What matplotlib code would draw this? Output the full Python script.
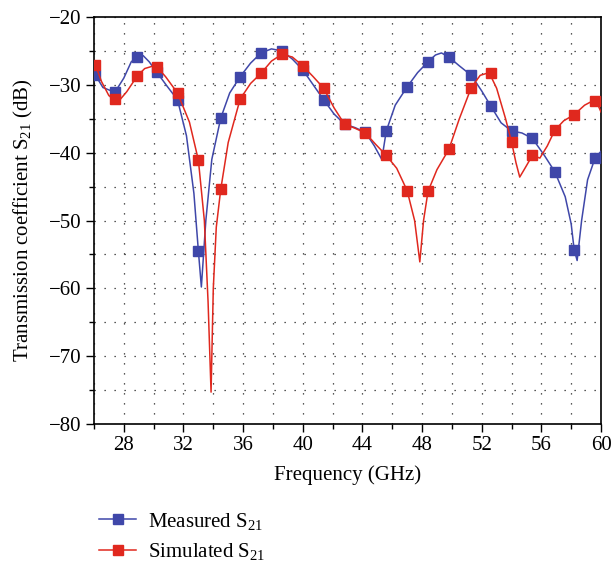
import matplotlib
matplotlib.use("Agg")
import matplotlib.pyplot as plt
from matplotlib.ticker import MultipleLocator
from matplotlib.lines import Line2D

# ---- data ----
marker_freq = [26.1, 27.4, 28.9, 30.2, 31.6, 33.0, 34.5, 35.8, 37.2, 38.6, 40.0, 41.4,
               42.8, 44.2, 45.6, 47.0, 48.4, 49.8, 51.3, 52.6, 54.0, 55.4, 56.9, 58.2, 59.6]
measured_markers = [-28.6, -31.1, -25.9, -28.1, -32.2, -54.5, -34.9, -28.8, -25.3, -25.0,
                    -27.8, -32.2, -35.8, -37.0, -36.8, -30.3, -26.6, -25.9, -28.6, -33.1,
                    -36.8, -37.9, -42.8, -54.3, -40.8]
simulated_markers = [-27.1, -32.1, -28.7, -27.3, -31.2, -41.1, -45.4, -32.1, -28.3, -25.5,
                     -27.2, -30.5, -35.8, -37.1, -40.4, -45.6, -45.7, -39.5, -30.4, -28.3,
                     -38.4, -40.4, -36.7, -34.4, -32.4]

measured_freq = [26.0, 26.1, 26.6, 27.4, 28.0, 28.5, 28.9, 29.3, 29.7, 30.2, 30.9, 31.6,
                 32.2, 32.7, 33.0, 33.2, 33.5, 33.9, 34.5, 35.1, 35.8, 36.5, 37.2, 37.9,
                 38.6, 39.3, 40.0, 40.7, 41.4, 42.1, 42.8, 43.5, 44.2, 44.8, 45.3, 45.6,
                 46.2, 47.0, 47.7, 48.4, 48.9, 49.3, 49.8, 50.5, 51.3, 52.0, 52.6, 53.3,
                 54.0, 54.7, 55.4, 56.2, 56.9, 57.6, 58.0, 58.2, 58.4, 58.7, 59.1, 59.6, 60.0]
measured_curve = [-28.0, -28.6, -30.4, -31.1, -29.0, -26.6, -25.9, -25.7, -26.6, -28.1,
                  -30.2, -32.2, -37.5, -46.0, -54.5, -59.8, -50.0, -41.0, -34.9, -31.2,
                  -28.8, -26.8, -25.3, -24.7, -25.0, -26.2, -27.8, -30.0, -32.2, -34.3,
                  -35.8, -36.3, -37.0, -39.0, -41.0, -36.8, -33.0, -30.3, -28.2, -26.6,
                  -25.6, -25.3, -25.9, -27.2, -28.6, -30.9, -33.1, -35.6, -36.8, -37.1,
                  -37.9, -40.4, -42.8, -46.5, -50.5, -54.3, -55.9, -50.0, -44.0, -40.8, -39.8]

simulated_freq = [26.0, 26.1, 26.5, 27.0, 27.4, 27.7, 28.2, 28.9, 29.4, 30.0, 30.2, 30.8,
                  31.6, 32.4, 33.0, 33.4, 33.65, 33.85, 34.0, 34.2, 34.5, 35.0, 35.8, 36.5,
                  37.2, 37.9, 38.6, 39.3, 40.0, 40.7, 41.4, 42.1, 42.8, 43.5, 44.2, 44.9,
                  45.6, 46.3, 47.0, 47.5, 47.85, 48.1, 48.4, 49.0, 49.8, 50.5, 51.3, 51.9,
                  52.5, 53.0, 53.6, 54.0, 54.3, 54.55, 54.9, 55.4, 55.9, 56.4, 56.9, 57.5,
                  58.2, 58.9, 59.5, 59.8, 60.0]
simulated_curve = [-26.8, -27.1, -29.5, -31.6, -32.1, -32.3, -31.0, -28.7, -27.6, -27.2,
                   -27.3, -28.8, -31.2, -35.5, -41.1, -50.0, -62.0, -75.3, -60.0, -51.0,
                   -45.4, -38.5, -32.1, -29.8, -28.3, -26.5, -25.5, -25.9, -27.2, -28.8,
                   -30.5, -33.4, -35.8, -36.4, -37.1, -38.8, -40.4, -42.3, -45.6, -50.0,
                   -56.1, -50.0, -45.7, -42.5, -39.5, -35.0, -30.4, -28.6, -28.2, -30.5,
                   -35.0, -38.4, -41.5, -43.6, -42.3, -40.4, -40.8, -39.0, -36.7, -35.3,
                   -34.4, -33.0, -32.3, -33.0, -34.0]

x_ticks = [28, 32, 36, 40, 44, 48, 52, 56, 60]
y_ticks = [-80, -70, -60, -50, -40, -30, -20]

blue = "#3F47A9"
red = "#E0281E"

plt.rcParams["font.family"] = ["Liberation Serif", "DejaVu Serif"]
plt.rcParams["mathtext.fontset"] = "custom"
plt.rcParams["mathtext.rm"] = "Liberation Serif"
plt.rcParams["mathtext.it"] = "Liberation Serif:italic"

FS = 15

fig = plt.figure(figsize=(6.12, 5.71), dpi=100)
ax = fig.add_axes([94 / 612, 1 - 424 / 571, (601 - 94) / 612, (424 - 17) / 571])

ax.plot(measured_freq, measured_curve, color=blue, lw=1.1, zorder=3)
ax.plot(marker_freq, measured_markers, ls="none", marker="s", ms=7.5,
        color=blue, mec=blue, zorder=4)
ax.plot(simulated_freq, simulated_curve, color=red, lw=1.1, zorder=5)
ax.plot(marker_freq, simulated_markers, ls="none", marker="s", ms=7.5,
        color=red, mec=red, zorder=6)

ax.set_xlim(26, 60)
ax.set_ylim(-80, -20)
ax.set_xticks(x_ticks)
ax.set_yticks(y_ticks)
ax.set_yticklabels([f"\u2212{abs(v)}" for v in y_ticks])
ax.xaxis.set_minor_locator(MultipleLocator(2))
ax.yaxis.set_minor_locator(MultipleLocator(5))
ax.tick_params(which="major", direction="out", length=6, width=1, labelsize=FS,
               top=False, right=False, pad=3)
ax.tick_params(which="minor", direction="out", length=3.5, width=1,
               top=False, right=False)
ax.grid(True, which="both", color="#222222", lw=0.9, ls=(0, (1, 7)))
ax.set_axisbelow(True)
for s in ax.spines.values():
    s.set_linewidth(1.2)

ax.set_xlabel("Frequency (GHz)", fontsize=FS, labelpad=7)
ax.set_ylabel("Transmission coefficient S$_{21}$ (dB)", fontsize=FS, labelpad=10)

handles = [Line2D([], [], color=blue, lw=1.1, marker="s", ms=7),
           Line2D([], [], color=red, lw=1.1, marker="s", ms=7)]
fig.legend(handles, ["Measured S$_{21}$", "Simulated S$_{21}$"],
           loc="upper left", bbox_to_anchor=(80 / 612, 1 - 492 / 571),
           frameon=False, fontsize=FS, handlelength=1.8, handletextpad=0.55,
           labelspacing=0.45)

fig.savefig("out.png", dpi=100)
